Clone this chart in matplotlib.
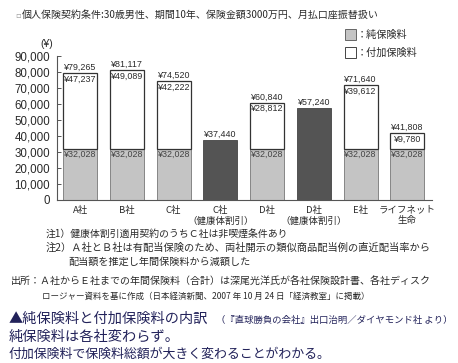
import matplotlib
matplotlib.use("Agg")
import matplotlib.pyplot as plt
from matplotlib.patches import Rectangle

plt.rcParams['font.family'] = ['Noto Sans CJK JP', 'DejaVu Sans']

companies = ["A社", "B社", "C社", "C社\n（健康体割引）", "D社", "D社\n（健康体割引）", "E社", "ライフネット\n生命"]
pure = [32028, 32028, 32028, 0, 32028, 0, 32028, 32028]
loading = [47237, 49089, 42222, 0, 28812, 0, 39612, 9780]
discount = [0, 0, 0, 37440, 0, 57240, 0, 0]
totals = [79265, 81117, 74520, 37440, 60840, 57240, 71640, 41808]
yticks = [0, 10000, 20000, 30000, 40000, 50000, 60000, 70000, 80000, 90000]

W, H = 458, 363
fig = plt.figure(figsize=(W / 100, H / 100), dpi=100)
renderer = fig.canvas.get_renderer()


def fx(x):
    return x / W


def fy(y):
    return 1 - y / H


def fit(s, x0, x1, y, color, size=8, **kw):
    # put text at pixel x0 and scale the font so it ends near pixel x1
    t = fig.text(fx(x0), fy(y), s, fontsize=size, color=color, va='center', **kw)
    wpx = t.get_window_extent(renderer=renderer).width
    t.set_fontsize(size * (x1 - x0) / wpx)
    return t


txt = '#2a2a2a'
navy = '#22225a'
num_font = ['Liberation Sans', 'Noto Sans CJK JP']

ax = fig.add_axes([fx(57), fy(200), fx(432) - fx(57), fy(56) - fy(200)])
x = range(len(companies))
w = 0.73

ax.bar(x, pure, w, color='#c4c4c4', edgecolor='#777777', linewidth=0.6)
ax.bar(x, loading, w, bottom=pure, color='white', edgecolor='#333333', linewidth=0.9)
ax.bar(x, discount, w, color='#545454', edgecolor='#444444', linewidth=0.6)

for i in x:
    top = pure[i] + loading[i] + discount[i]
    ax.text(i, top + 700, '¥{:,}'.format(totals[i]), ha='center', va='bottom',
            fontsize=6.4, color=txt, family=num_font)
    if loading[i] > 0:
        ax.text(i, top - 900, '¥{:,}'.format(loading[i]), ha='center', va='top',
                fontsize=6.4, color=txt, family=num_font)
    if pure[i] > 0:
        ax.text(i, pure[i] - 900, '¥{:,}'.format(pure[i]), ha='center', va='top',
                fontsize=6.4, color='#444444', family=num_font)

ax.set_xlim(-0.5, 7.53)
ax.set_ylim(0, 90000)
ax.set_yticks(yticks)
ax.set_yticklabels(['{:,}'.format(v) for v in yticks], family=num_font, fontsize=8.3, color=txt)
ax.tick_params(axis='y', direction='in', length=3, width=0.7, color='#555555', pad=5)
ax.set_xticks(list(x))
ax.set_xticklabels(companies, fontsize=6.8, color=txt, linespacing=1.25)
ax.tick_params(axis='x', length=0, pad=4)
for s in ['top', 'right']:
    ax.spines[s].set_visible(False)
ax.spines['left'].set_color('#555555')
ax.spines['bottom'].set_color('#555555')
ax.spines['left'].set_linewidth(0.8)
ax.spines['bottom'].set_linewidth(0.8)

# header and legend
fig.text(fx(15), fy(15), '▫', fontsize=6, color='#999999', va='center', family=['DejaVu Sans'])
fit('個人保険契約条件:30歳男性、期間10年、保険金額3000万円、月払口座振替扱い', 22, 378, 15, txt)
fig.text(fx(47), fy(44), '(¥)', fontsize=7.5, color=txt, ha='center', va='center', family=num_font)
fig.patches.append(Rectangle((fx(345), fy(40)), fx(11), fy(29) - fy(40), transform=fig.transFigure,
                             facecolor='#c4c4c4', edgecolor='#666666', linewidth=0.7))
fig.patches.append(Rectangle((fx(345), fy(58)), fx(11), fy(47) - fy(58), transform=fig.transFigure,
                             facecolor='white', edgecolor='#444444', linewidth=0.7))
fit('：純保険料', 357, 408, 34.5, txt)
fit('：付加保険料', 357, 418, 52.5, txt)

# notes
fit('注1）健康体割引適用契約のうちＣ社は非喫煙条件あり', 46, 288, 234, txt)
fit('注2）Ａ社とＢ社は有配当保険のため、両社開示の類似商品配当例の直近配当率から', 46, 432, 248, txt)
fit('配当額を推定し年間保険料から減額した', 68, 250, 262, txt)
fit('出所：Ａ社からＥ社までの年間保険料（合計）は深尾光洋氏が各社保険設計書、各社ディスク', 11, 430, 282, txt)
fit('ロージャー資料を基に作成（日本経済新聞、2007 年 10 月 24 日「経済教室」に掲載）', 42, 370, 296, txt)

# caption
fit('▲純保険料と付加保険料の内訳', 9, 208, 319, navy)
fit('（『直球勝負の会社』出口治明／ダイヤモンド社 より）', 216, 452, 320, navy)
fit('純保険料は各社変わらず。', 9, 180, 337, navy)
fit('付加保険料で保険料総額が大きく変わることがわかる。', 9, 333, 354, navy)

fig.savefig('out.png', dpi=100, facecolor='white')
